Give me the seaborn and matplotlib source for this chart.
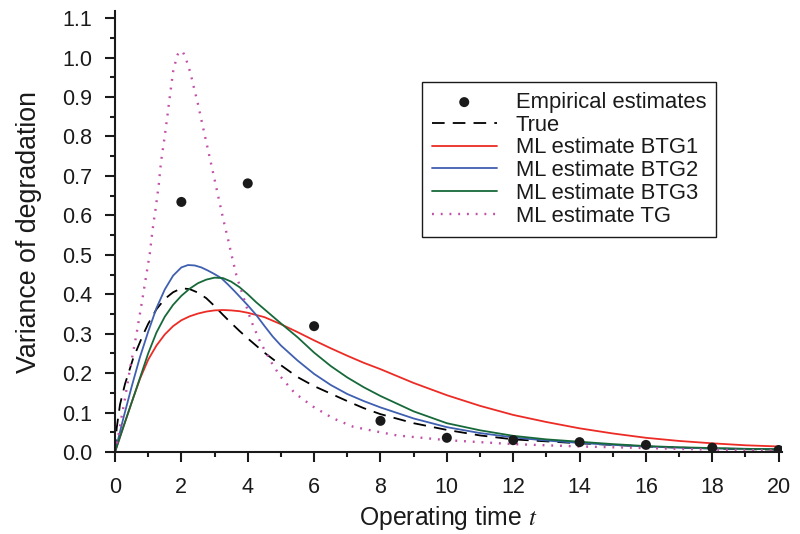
import numpy as np
import pandas as pd
import matplotlib
matplotlib.use("Agg")
import matplotlib.pyplot as plt
import seaborn as sns

# ---------------- data ----------------
emp_t = [2, 4, 6, 8, 10, 12, 14, 16, 18, 20]
emp_v = [0.634, 0.681, 0.319, 0.079, 0.036, 0.030, 0.025, 0.018, 0.011, 0.005]

true_t = [0, 0.05, 0.15, 0.3, 0.55, 0.85, 1.0, 1.25, 1.5, 1.75, 2.0, 2.25, 2.5, 2.75,
          3.0, 3.25, 3.5, 3.75, 4.0, 4.5, 5.0, 5.5, 6.0, 6.5, 7.0, 7.5, 8, 9, 10, 11,
          12, 13, 14, 15, 16, 17, 18, 19, 20]
true_v = [0, 0.06, 0.12, 0.172, 0.238, 0.298, 0.325, 0.362, 0.388, 0.405, 0.415, 0.413,
          0.404, 0.39, 0.37, 0.348, 0.327, 0.307, 0.288, 0.252, 0.22, 0.19, 0.167, 0.148,
          0.129, 0.111, 0.096, 0.073, 0.056, 0.042, 0.032, 0.027, 0.022, 0.018, 0.014,
          0.011, 0.009, 0.007, 0.006]

btg1_t = [0, 0.25, 0.5, 0.75, 1.0, 1.25, 1.5, 1.75, 2.0, 2.25, 2.5, 2.75, 3.0, 3.25,
          3.5, 3.75, 4.0, 4.5, 5.0, 5.5, 6.0, 6.5, 7.0, 7.5, 8, 9, 10, 11, 12, 13, 14,
          15, 16, 17, 18, 19, 20]
btg1_v = [0, 0.063, 0.125, 0.185, 0.234, 0.27, 0.298, 0.319, 0.334, 0.344, 0.351, 0.356,
          0.359, 0.36, 0.359, 0.357, 0.353, 0.342, 0.324, 0.304, 0.283, 0.263, 0.244,
          0.226, 0.21, 0.175, 0.144, 0.117, 0.094, 0.076, 0.060, 0.047, 0.036, 0.028,
          0.022, 0.017, 0.014]

btg2_t = [0, 0.25, 0.5, 0.75, 1.0, 1.25, 1.5, 1.75, 2.0, 2.2, 2.4, 2.6, 2.8, 3.0, 3.2,
          3.4, 3.6, 3.8, 4.0, 4.25, 4.5, 4.75, 5.0, 5.5, 6.0, 6.5, 7.0, 7.5, 8, 9, 10,
          11, 12, 13, 14, 15, 16, 17, 18, 19, 20]
btg2_v = [0, 0.085, 0.165, 0.24, 0.305, 0.365, 0.412, 0.447, 0.468, 0.474, 0.473, 0.468,
          0.46, 0.451, 0.441, 0.425, 0.408, 0.39, 0.372, 0.348, 0.32, 0.293, 0.27, 0.232,
          0.198, 0.17, 0.147, 0.129, 0.113, 0.085, 0.063, 0.048, 0.037, 0.029, 0.023,
          0.018, 0.014, 0.011, 0.009, 0.008, 0.007]

btg3_t = [0, 0.25, 0.5, 0.75, 1.0, 1.25, 1.5, 1.75, 2.0, 2.25, 2.5, 2.75, 3.0, 3.25,
          3.5, 3.75, 4.0, 4.25, 4.5, 4.75, 5.0, 5.5, 6.0, 6.5, 7.0, 7.5, 8, 9, 10, 11,
          12, 13, 14, 15, 16, 17, 18, 19, 20]
btg3_v = [0, 0.063, 0.125, 0.187, 0.25, 0.303, 0.343, 0.373, 0.396, 0.414, 0.428, 0.437,
          0.442, 0.441, 0.432, 0.418, 0.40, 0.38, 0.362, 0.344, 0.326, 0.291, 0.252,
          0.218, 0.189, 0.164, 0.142, 0.103, 0.073, 0.055, 0.041, 0.032, 0.026, 0.020,
          0.015, 0.012, 0.010, 0.008, 0.007]

tg_t = [0, 0.1, 0.2, 0.3, 0.45, 0.65, 0.85, 1.05, 1.13, 1.23, 1.32, 1.39, 1.49, 1.58,
        1.67, 1.76, 1.89, 2.03, 2.13, 2.27, 2.38, 2.49, 2.59, 2.69, 2.79, 2.89, 2.99,
        3.09, 3.19, 3.29, 3.4, 3.5, 3.67, 3.82, 4.09, 4.37, 4.7, 4.97, 5.42, 5.97, 6.58,
        7.18, 7.88, 8.5, 10, 12, 14, 16, 18, 20]
tg_v = [0, 0.04, 0.09, 0.135, 0.21, 0.30, 0.40, 0.504, 0.562, 0.62, 0.679, 0.738, 0.795,
        0.853, 0.913, 0.97, 1.008, 1.017, 0.999, 0.962, 0.923, 0.886, 0.847, 0.809,
        0.771, 0.733, 0.695, 0.656, 0.618, 0.58, 0.542, 0.504, 0.444, 0.406, 0.335,
        0.28, 0.229, 0.193, 0.149, 0.115, 0.085, 0.064, 0.052, 0.042, 0.030, 0.020,
        0.014, 0.010, 0.006, 0.004]

x_ticks = [0, 2, 4, 6, 8, 10, 12, 14, 16, 18, 20]
y_ticks = [0.0, 0.1, 0.2, 0.3, 0.4, 0.5, 0.6, 0.7, 0.8, 0.9, 1.0, 1.1]

# ---------------- style ----------------
sns.set_theme(style="ticks")
plt.rcParams["font.family"] = ["Liberation Sans", "DejaVu Sans"]
plt.rcParams["mathtext.fontset"] = "stix"

fig = plt.figure(figsize=(8, 5.34), dpi=100)
ax = fig.add_axes([0.14375, 0.15356, 0.83375, 0.8258])

c_red = "#ec2b25"
c_blue = "#3f5fb0"
c_green = "#17693a"
c_mag = "#c24fa8"

sns.scatterplot(x=emp_t, y=emp_v, ax=ax, color="#1a1a1a", s=52, edgecolor="none",
                label="Empirical estimates", zorder=5)
sns.lineplot(x=true_t, y=true_v, ax=ax, color="black", lw=1.3, sort=False,
             label="True").lines[-1].set_dashes((7, 4.5))
sns.lineplot(x=btg1_t, y=btg1_v, ax=ax, color=c_red, lw=1.3, sort=False, label="ML estimate BTG1")
sns.lineplot(x=btg2_t, y=btg2_v, ax=ax, color=c_blue, lw=1.3, sort=False, label="ML estimate BTG2")
sns.lineplot(x=btg3_t, y=btg3_v, ax=ax, color=c_green, lw=1.3, sort=False, label="ML estimate BTG3")
sns.lineplot(x=tg_t, y=tg_v, ax=ax, color=c_mag, lw=1.7, sort=False,
             label="ML estimate TG").lines[-1].set_dashes((0.8, 2.9))

ax.set_xlim(0, 20.1)
ax.set_ylim(0, 1.118)
ax.set_xticks(x_ticks)
ax.set_xticklabels([str(v) for v in x_ticks])
ax.set_yticks(y_ticks)
ax.set_yticklabels([f"{v:.1f}" for v in y_ticks])
ax.set_xticks(np.arange(1, 20, 2), minor=True)
ax.set_yticks(np.arange(0.05, 1.1, 0.1), minor=True)

for s in ["top", "right"]:
    ax.spines[s].set_visible(False)
for s in ["left", "bottom"]:
    ax.spines[s].set_linewidth(1.5)
    ax.spines[s].set_color("#1a1a1a")

ax.tick_params(axis="both", which="major", direction="out", length=7, width=1.5,
               colors="#1a1a1a", labelsize=15.5)
ax.tick_params(axis="both", which="minor", direction="out", length=3.8, width=1.5,
               colors="#1a1a1a")
ax.tick_params(axis="x", which="major", pad=11)
ax.tick_params(axis="y", which="major", pad=9.5)

ax.set_xlabel("Operating time $t$", fontsize=17.8, color="#1a1a1a", labelpad=4)
ax.set_ylabel("Variance of degradation", fontsize=19.3, color="#1a1a1a", labelpad=14)

leg = ax.legend(loc="upper left", bbox_to_anchor=(422 / 800, 1 - 82 / 534),
                bbox_transform=fig.transFigure, fontsize=15.8, frameon=True,
                fancybox=False, shadow=False, handlelength=2.95, handletextpad=0.88,
                labelspacing=0.08, borderpad=0.45, borderaxespad=0)
leg.get_frame().set_edgecolor("#1a1a1a")
leg.get_frame().set_linewidth(1.0)
leg.get_frame().set_alpha(1)
for txt in leg.get_texts():
    txt.set_color("#1a1a1a")

fig.savefig("out.png", dpi=100)
